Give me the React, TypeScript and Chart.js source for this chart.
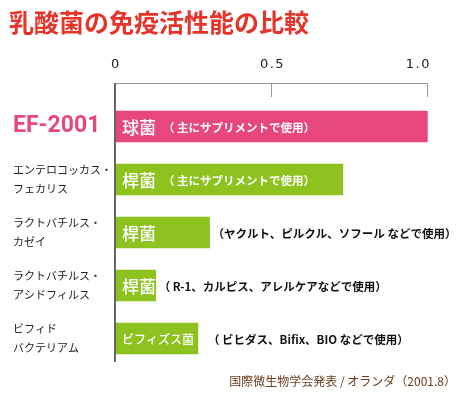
import React, { useEffect, useRef } from "react";
import { Chart, registerables } from "chart.js";

Chart.register(...registerables);

const titleText = "乳酸菌の免疫活性能の比較";
const sourceText = "国際微生物学会発表 / オランダ（2001.8）";
const categories: string[][] = [
  ["EF-2001"],
  ["エンテロコッカス・", "フェカリス"],
  ["ラクトバチルス・", "カゼイ"],
  ["ラクトバチルス・", "アシドフィルス"],
  ["ビフィド", "バクテリアム"],
];
const values = [0.998, 0.728, 0.302, 0.13, 0.265];
const barTypes = ["球菌", "桿菌", "桿菌", "桿菌", "ビフィズス菌"];
const notes = [
  "（ 主にサプリメントで使用）",
  "（ 主にサプリメントで使用）",
  "（ヤクルト、ピルクル、ソフール などで使用）",
  "（ R-1、カルピス、アレルケアなどで使用）",
  "（ ビヒダス、Bifix、BIO などで使用）",
];
const notesInside = [true, true, false, false, false];
const tickValues = [0, 0.5, 1.0];
const tickLabels = ["0", "0.5", "1.0"];

const PINK = "#E8467E";
const GREEN = "#8DC21F";
const JP = '"Noto Sans CJK JP", "Noto Sans", sans-serif';

const overlay = {
  id: "overlay",
  afterDraw(chart: any) {
    const ctx = chart.ctx as CanvasRenderingContext2D;
    const xs = chart.scales.x;
    const area = chart.chartArea;
    ctx.save();
    // title
    ctx.fillStyle = "#E5342A";
    ctx.font = `bold 25px ${JP}`;
    ctx.textBaseline = "middle";
    ctx.textAlign = "left";
    ctx.fillText(titleText, 9, 22);

    // tick labels
    ctx.fillStyle = "#222";
    ctx.font = `13px "DejaVu Sans", sans-serif`;
    (ctx as any).letterSpacing = "1.5px";
    tickValues.forEach((v, i) => {
      const px = xs.getPixelForValue(v);
      const last = i === tickValues.length - 1;
      ctx.textAlign = last ? "right" : "center";
      ctx.fillText(tickLabels[i], last ? px + 3 : px + 1, 65);
    });
    (ctx as any).letterSpacing = "0px";

    // bracket
    const top = 83;
    const x0 = xs.getPixelForValue(tickValues[0]);
    const x1 = xs.getPixelForValue(tickValues[tickValues.length - 1]);
    ctx.strokeStyle = "#999";
    ctx.lineWidth = 1;
    ctx.beginPath();
    ctx.moveTo(x0, top + 0.5);
    ctx.lineTo(x1, top + 0.5);
    tickValues.slice(1).forEach((v) => {
      const px = Math.round(xs.getPixelForValue(v)) - 0.5;
      ctx.moveTo(px, top);
      ctx.lineTo(px, top + 14);
    });
    ctx.stroke();
    ctx.strokeStyle = "#666";
    ctx.lineWidth = 2;
    ctx.beginPath();
    ctx.moveTo(x0, top);
    ctx.lineTo(x0, area.bottom - 3);
    ctx.stroke();

    // bar labels
    const meta = chart.getDatasetMeta(0);
    meta.data.forEach((bar: any, i: number) => {
      const y = bar.y;
      const left = bar.base;
      ctx.textAlign = "left";
      ctx.textBaseline = "middle";
      ctx.fillStyle = "#fff";
      const small = barTypes[i].length > 3;
      ctx.font = small ? `500 12px ${JP}` : `500 17px ${JP}`;
      ctx.fillText(barTypes[i], left + 7, y + 1);
      ctx.font = `bold 11.5px ${JP}`;
      if (notesInside[i]) {
        ctx.fillStyle = "#fff";
        ctx.fillText(notes[i], left + 48, y + 1);
      } else {
        ctx.fillStyle = "#111";
        const gap = small ? 10 : 3;
        ctx.fillText(notes[i], bar.x + gap, y + 1);
      }
    });

    // source
    ctx.fillStyle = "#6B3D1A";
    ctx.font = `12px ${JP}`;
    ctx.textAlign = "right";
    ctx.fillText(sourceText, 456, 381);
    ctx.restore();
  },
};

export default function App() {
  const ref = useRef<HTMLCanvasElement>(null);
  useEffect(() => {
    if (!ref.current) return;
    const chart = new Chart(ref.current, {
      type: "bar",
      data: {
        labels: categories,
        datasets: [
          {
            data: values,
            backgroundColor: values.map((_, i) => (i === 0 ? PINK : GREEN)),
            barThickness: 31,
            borderWidth: 0,
          },
        ],
      },
      options: {
        indexAxis: "y",
        animation: false,
        responsive: false,
        maintainAspectRatio: false,
        layout: { padding: { top: 100, bottom: 34, left: 13, right: 30 } },
        plugins: {
          legend: { display: false },
          title: { display: false },
          tooltip: { enabled: false },
        },
        scales: {
          x: {
            display: false,
            min: 0,
            max: 1.0,
          },
          y: {
            grid: { display: false },
            border: { display: false },
            afterFit: (s: any) => {
              s.width = 102;
            },
            ticks: {
              crossAlign: "far",
              color: (c: any) => (c.index === 0 ? PINK : "#222"),
              font: (c: any) =>
                c.index === 0
                  ? { family: 'Roboto, "Open Sans", sans-serif', size: 23, weight: "bold", lineHeight: 1.2 }
                  : { family: JP, size: 11, lineHeight: 1.75 },
            },
          },
        },
      },
      plugins: [overlay],
    });
    return () => chart.destroy();
  }, []);
  return (
    <div style={{ position: "fixed", left: 0, top: 0, width: 458, height: 399, background: "#fff" }}>
      <canvas ref={ref} width={458} height={399} />
    </div>
  );
}
